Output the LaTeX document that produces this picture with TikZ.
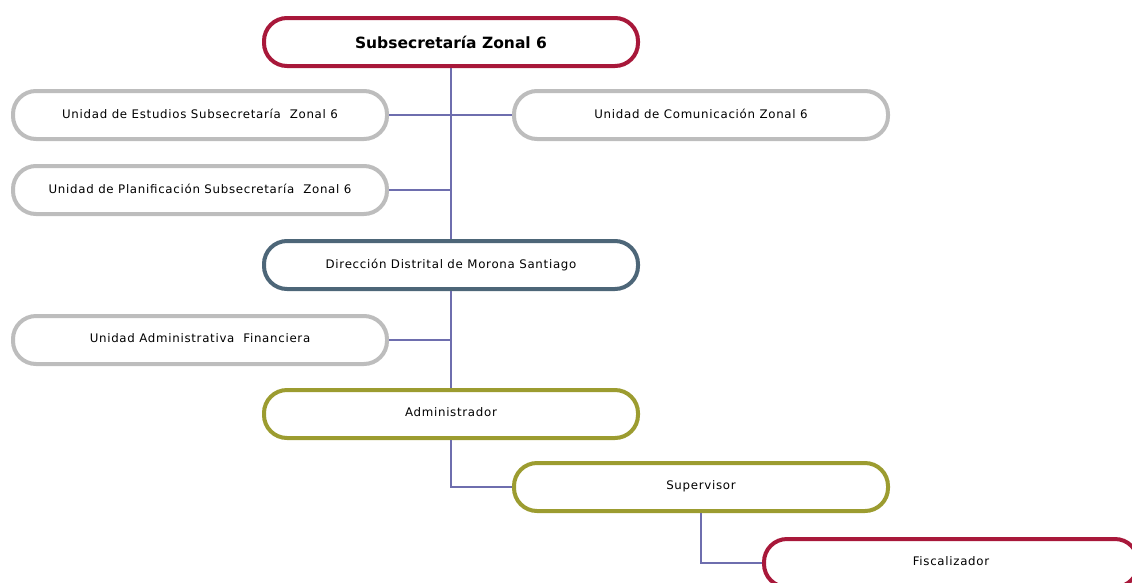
\documentclass[tikz,border=0pt]{standalone}
\usepackage{fontspec}
\setmainfont{DejaVu Sans}
\newfontfamily\boxfont[LetterSpace=6]{DejaVu Sans}
\definecolor{rojo}{HTML}{A8183A}
\definecolor{gris}{HTML}{BDBDBD}
\definecolor{azul}{HTML}{4D6678}
\definecolor{oliva}{HTML}{9C9C30}
\definecolor{linea}{HTML}{6E6EAE}
\tikzset{
  caja/.style={draw=#1, line width=4pt, rounded corners=23pt, minimum width=374pt, minimum height=48pt, fill=white, font=\boxfont\fontsize{11.8}{13}\selectfont},
  conn/.style={draw=linea, line width=1.2pt}
}

\begin{document}
\begin{tikzpicture}[x=1pt,y=-1pt]
\clip (0,0) rectangle (1132,582);
\node[caja=rojo, font=\bfseries\fontsize{15.5}{17}\selectfont] (sz) at (451,42){Subsecretaría Zonal 6};
\node[caja=gris] (est) at (200,115){\raisebox{3pt}{Unidad de Estudios Subsecretaría\ \ Zonal 6}};
\node[caja=gris] (com) at (701,115){\raisebox{3pt}{Unidad de Comunicación Zonal 6}};
\node[caja=gris] (pla) at (200,190){\raisebox{3pt}{Unidad de Planificación Subsecretaría\ \ Zonal 6}};
\node[caja=azul] (dir) at (451,265){\raisebox{3pt}{Dirección Distrital de Morona Santiago}};
\node[caja=gris] (adm) at (200,340){\raisebox{3pt}{Unidad Administrativa\ \ Financiera}};
\node[caja=oliva] (admr) at (451,414){\raisebox{3pt}{Administrador}};
\node[caja=oliva] (sup) at (701,487){\raisebox{3pt}{Supervisor}};
\node[caja=rojo] (fis) at (951,563){\raisebox{3pt}{Fiscalizador}};
\draw[conn] (sz.south) -- (dir.north);
\draw[conn] (dir.south) -- (admr.north);
\draw[conn] (est.east) -- (com.west);
\draw[conn] (pla.east) -- (pla.east -| sz.south);
\draw[conn] (adm.east) -- (adm.east -| dir.south);
\draw[conn] (admr.south) |- (sup.west);
\draw[conn] (sup.south) |- (fis.west);
\end{tikzpicture}
\end{document}
